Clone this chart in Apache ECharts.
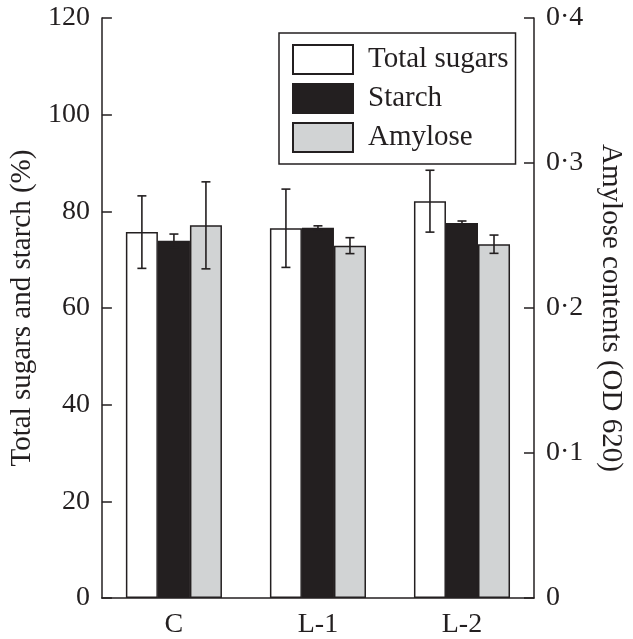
<!DOCTYPE html>
<html>
<head>
<meta charset="utf-8">
<script src="https://cdn.jsdelivr.net/npm/echarts@6/dist/echarts.min.js"></script>
<style>
  html, body { margin: 0; padding: 0; background: #fff; }
  #chart { width: 633px; height: 639px; }
</style>
</head>
<body>
<div id="chart"></div>
<script>
const categories = ["C", "L-1", "L-2"];
const totalSugars = [75.7, 76.5, 82.1];
const totalSugarsErr = [7.5, 8.1, 6.4];
const starch = [73.9, 76.6, 77.6];
const starchErr = [1.4, 0.4, 0.4];
const amylose = [0.257, 0.243, 0.244];
const amyloseErr = [0.03, 0.0055, 0.0063];
const leftTicks = { min: 0, max: 120, interval: 20 };
const rightTicks = { min: 0, max: 0.4, interval: 0.1 };

const ink = "#231f20";
const font = "Liberation Serif";
const gapPct = 0.333;

const errData = (vals, errs) => vals.map((v, i) => [i, v, errs[i]]);

// error bar drawn at the centre of the bar with index `slot` (0, 1, 2)
const errorBars = (slot) => (params, api) => {
  const band = api.size([1, 0])[0];
  const bw = band * (1 - gapPct) / 3;
  const v = api.value(1);
  const e = api.value(2);
  const top = api.coord([api.value(0), v + e]);
  const bot = api.coord([api.value(0), v - e]);
  const x = top[0] + (slot - 1) * bw;
  const cap = 4.5;
  const style = { stroke: ink, lineWidth: 1.6 };
  return {
    type: "group",
    children: [
      { type: "line", shape: { x1: x, y1: top[1], x2: x, y2: bot[1] }, style },
      { type: "line", shape: { x1: x - cap, y1: top[1], x2: x + cap, y2: top[1] }, style },
      { type: "line", shape: { x1: x - cap, y1: bot[1], x2: x + cap, y2: bot[1] }, style },
    ],
  };
};

const barStyle = (color) => ({ color: color, borderColor: ink, borderWidth: 1.5 });

const chart = echarts.init(document.getElementById("chart"));
chart.setOption({
  animation: false,
  backgroundColor: "#fff",
  grid: { left: 99, right: 97, top: 18, bottom: 41, containLabel: false },
  legend: {
    data: ["Total sugars", "Starch", "Amylose"],
    orient: "vertical",
    left: 279,
    top: 33,
    icon: "rect",
    itemWidth: 60,
    itemHeight: 29,
    itemGap: 8,
    padding: [11, 7, 11, 13],
    borderColor: ink,
    borderWidth: 1.5,
    textStyle: { fontFamily: font, fontSize: 29, lineHeight: 29, color: ink, padding: [0, 0, 0, 10] },
  },
  xAxis: {
    type: "category",
    data: categories,
    axisLine: { lineStyle: { color: ink, width: 1.5 } },
    axisTick: { show: false },
    axisLabel: { fontFamily: font, fontSize: 28, color: ink, margin: 13 },
  },
  yAxis: [
    {
      type: "value",
      min: leftTicks.min,
      max: leftTicks.max,
      interval: leftTicks.interval,
      name: "Total sugars and starch (%)",
      nameLocation: "middle",
      nameGap: 62,
      nameTextStyle: { fontFamily: font, fontSize: 29, color: ink },
      axisLine: { show: true, lineStyle: { color: ink, width: 1.5 } },
      axisTick: { show: true, inside: true, length: 10, lineStyle: { color: ink, width: 1.5 } },
      axisLabel: { fontFamily: font, fontSize: 28, color: ink, margin: 12 },
      splitLine: { show: false },
    },
    {
      type: "value",
      position: "right",
      min: rightTicks.min,
      max: rightTicks.max,
      interval: rightTicks.interval,
      name: "Amylose contents (OD 620)",
      nameLocation: "middle",
      nameRotate: -90,
      nameGap: 62,
      nameTextStyle: { fontFamily: font, fontSize: 29, color: ink },
      axisLine: { show: true, lineStyle: { color: ink, width: 1.5 } },
      axisTick: { show: true, inside: true, length: 10, lineStyle: { color: ink, width: 1.5 } },
      axisLabel: {
        fontFamily: font,
        fontSize: 28,
        color: ink,
        margin: 12,
        formatter: (v) => (v === 0 ? "0" : v.toFixed(1).replace(".", "\u00b7")),
      },
      splitLine: { show: false },
    },
  ],
  series: [
    {
      name: "Total sugars",
      type: "bar",
      data: totalSugars,
      itemStyle: barStyle("#ffffff"),
      barGap: "0%",
      barCategoryGap: "33.3%",
    },
    {
      name: "Starch",
      type: "bar",
      data: starch,
      itemStyle: barStyle(ink),
      barGap: "0%",
      barCategoryGap: "33.3%",
    },
    {
      name: "Amylose",
      type: "bar",
      yAxisIndex: 1,
      data: amylose,
      itemStyle: barStyle("#d1d3d4"),
      barGap: "0%",
      barCategoryGap: "33.3%",
    },
    {
      type: "custom",
      renderItem: errorBars(0),
      data: errData(totalSugars, totalSugarsErr),
      encode: { x: 0, y: 1 },
      z: 5,
    },
    {
      type: "custom",
      renderItem: errorBars(1),
      data: errData(starch, starchErr),
      encode: { x: 0, y: 1 },
      z: 5,
    },
    {
      type: "custom",
      yAxisIndex: 1,
      renderItem: errorBars(2),
      data: errData(amylose, amyloseErr),
      encode: { x: 0, y: 1 },
      z: 5,
    },
  ],
});
</script>
</body>
</html>
